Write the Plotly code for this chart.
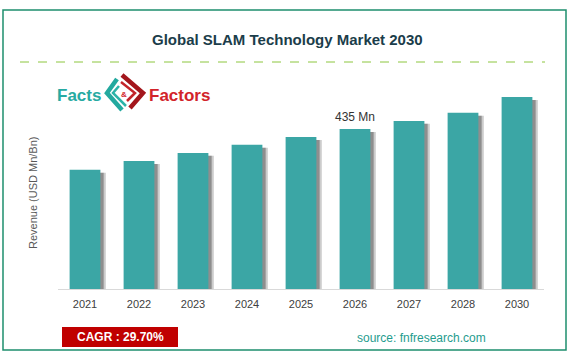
import plotly.graph_objects as go

years = ["2021", "2022", "2023", "2024", "2025", "2026", "2027", "2028", "2030"]
revenue = [324, 348, 370, 392, 413, 435, 457, 479, 522]
label_year = "2026"
label_text = "435 Mn"
title_text = "Global SLAM Technology Market 2030"
y_title = "Revenue (USD Mn/Bn)"
cagr_text = "CAGR : 29.70%"
source_text = "source: fnfresearch.com"

W, H = 569, 354
def px(x): return x / W
def py(y): return 1 - y / H

YMAX = 541
BAR_W = 0.57
shadow_drop = 8

fig = go.Figure()
fig.add_trace(go.Bar(
    x=years, y=[v - shadow_drop for v in revenue], width=BAR_W, offset=-BAR_W / 2 + 0.10,
    marker=dict(color="rgba(170,170,170,0.6)", line=dict(width=0)),
    hoverinfo="skip", showlegend=False))
fig.add_trace(go.Bar(
    x=years, y=[v - shadow_drop for v in revenue], width=BAR_W, offset=-BAR_W / 2 + 0.06,
    marker=dict(color="rgba(100,100,100,0.6)", line=dict(width=0)),
    hoverinfo="skip", showlegend=False))
fig.add_trace(go.Bar(
    x=years, y=revenue, width=BAR_W, offset=-BAR_W / 2,
    marker=dict(color="#3ba6a5", line=dict(width=0)), showlegend=False))

fig.update_layout(
    width=W, height=H, autosize=False,
    margin=dict(l=0, r=0, t=0, b=0),
    paper_bgcolor="white", plot_bgcolor="white",
    barmode="overlay",
    font=dict(family="Liberation Sans, Arial, sans-serif"),
    xaxis=dict(type="category", domain=[px(58), px(544)], range=[-0.5, 8.5],
               showline=True, linecolor="#d9d9d9", linewidth=1, ticks="",
               showgrid=False, zeroline=False,
               tickfont=dict(size=11, color="#404040", family="Liberation Sans, Arial"),
               ticklabelstandoff=5),
    yaxis=dict(domain=[py(289), py(90)], range=[0, YMAX], visible=False),
)

shapes = []
shapes.append(dict(type="rect", xref="paper", yref="paper",
                   x0=px(3), x1=px(566), y0=py(350), y1=py(10),
                   line=dict(color="#1e8f6e", width=1.5), layer="below"))
shapes.append(dict(type="line", xref="paper", yref="paper",
                   x0=px(20), x1=px(545), y0=py(62), y1=py(62),
                   line=dict(color="#8cc63f", width=1, dash="dash")))
shapes.append(dict(type="rect", xref="paper", yref="paper",
                   x0=px(62), x1=px(178), y0=py(347), y1=py(327),
                   fillcolor="#c00000", line=dict(width=0), layer="below"))

def path(points):
    return "M " + " L ".join(f"{px(x)},{py(y)}" for x, y in points)

logo_lines = [
    ([(117, 79), (107, 93), (122, 110)], "#23a99f", 4.5),
    ([(119, 86), (113, 93), (126, 106)], "#2bb3a8", 2.5),
    ([(122, 75), (143, 93), (130, 108)], "#a3161c", 4.5),
    ([(121, 82), (135, 93), (127, 101)], "#c3242a", 2.5),
]
for pts, col, wdt in logo_lines:
    shapes.append(dict(type="path", xref="paper", yref="paper", path=path(pts),
                       line=dict(color=col, width=wdt)))

def ann(text, x, y, size, color, **kw):
    d = dict(text=text, x=px(x), y=py(y), xref="paper", yref="paper",
             xanchor="center", yanchor="middle", showarrow=False,
             font=dict(size=size, color=color, family=kw.pop("family", "Liberation Sans, Arial")))
    d.update(kw)
    return d

label_idx = years.index(label_year)
annotations = [
    ann(f"<b>{title_text}</b>", 287, 40, 15, "#1b3d4a"),
    ann("<b>Facts</b>", 103, 96, 17, "#27aaa2", xanchor="right"),
    ann("<b>Factors</b>", 147, 96, 17, "#d2232a", xanchor="left"),
    ann("<b>&</b>", 124, 94, 8, "#d2232a"),
    ann(y_title, 33, 193, 11, "#595959", textangle=-90),
    ann(f"<b>{cagr_text}</b>", 120, 337, 12, "white"),
    ann(source_text, 421, 338, 12, "#1f9c8e"),
    dict(text=label_text, x=label_idx, y=revenue[label_idx], xref="x", yref="y",
         xanchor="center", yanchor="bottom", yshift=3, showarrow=False,
         font=dict(size=12, color="#333333")),
]
fig.update_layout(shapes=shapes, annotations=annotations)
fig.write_html("out.html")
